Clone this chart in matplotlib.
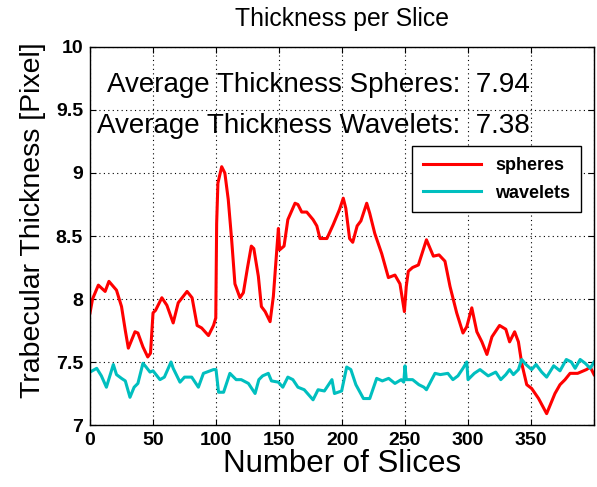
import matplotlib
matplotlib.use("Agg")
import matplotlib.pyplot as plt

plt.rcParams["font.family"] = ["Liberation Sans", "DejaVu Sans"]

# spheres curve
sph_x = [0, 2, 6.6, 12, 15, 21, 25, 28, 30.4, 35.7, 38, 42, 45.8, 48, 50, 52, 57, 61, 66, 70,
         77, 81, 85, 88.6, 94, 98, 99.8, 100.5, 101.5, 104.5, 107, 109.7, 112.4, 115, 119, 121.7,
         125, 128, 130, 133.6, 136, 139, 142.9, 145.5, 148, 149.5, 150.5, 154, 157, 162.7, 165,
         168, 172, 177, 180, 182.5, 188, 193, 198, 201, 203, 206, 208.5, 212, 215, 219.6, 222,
         226, 231.5, 236.8, 242, 246, 249.5, 251, 252.6, 256, 260.6, 267, 272.5, 277, 281.7,
         285.7, 291, 296, 299, 303, 307, 311, 315, 319, 325, 330, 333, 337, 340, 342.6, 346.6,
         350.5, 356, 362.4, 369, 373, 377, 381, 387, 394, 397, 400]
sph_y = [7.89, 8.00, 8.11, 8.06, 8.14, 8.07, 7.94, 7.75, 7.61, 7.74, 7.73, 7.62, 7.54, 7.57, 7.89,
         7.91, 8.01, 7.95, 7.81, 7.97, 8.06, 8.01, 7.79, 7.77, 7.71, 7.79, 7.85, 8.60, 8.92, 9.05,
         9.00, 8.79, 8.47, 8.12, 8.01, 8.05, 8.25, 8.42, 8.40, 8.18, 7.94, 7.90, 7.82, 8.02, 8.36,
         8.56, 8.39, 8.42, 8.63, 8.76, 8.75, 8.69, 8.69, 8.63, 8.58, 8.48, 8.48, 8.59, 8.71, 8.80,
         8.72, 8.48, 8.45, 8.58, 8.62, 8.76, 8.68, 8.52, 8.36, 8.17, 8.19, 8.12, 7.90, 8.10, 8.22,
         8.25, 8.27, 8.47, 8.34, 8.35, 8.30, 8.10, 7.89, 7.73, 7.78, 7.93, 7.74, 7.66, 7.56, 7.70,
         7.79, 7.76, 7.66, 7.74, 7.66, 7.49, 7.32, 7.29, 7.21, 7.09, 7.25, 7.32, 7.36, 7.41, 7.41,
         7.44, 7.46, 7.40]

# wavelets curve
wav_x = [0, 5.3, 9, 13, 18.5, 21, 25, 28, 31.7, 35, 38, 42, 44.5, 47.6, 50, 55.5, 59, 64.3, 66,
         71.4, 75, 80.7, 86, 90, 98, 100, 102, 106, 111, 116, 120, 125.7, 131, 134, 137, 141.5,
         144, 149.5, 153, 157, 161, 165, 170, 177, 181, 186, 192, 194, 199.7, 203.7, 207, 211,
         217, 222, 227.5, 232, 237, 242, 247, 249, 250, 251, 256, 261, 265, 267, 273.8, 278, 284,
         288, 292, 296, 299, 300, 305, 309.5, 316, 322, 326, 330, 333, 336, 340, 342.6, 346,
         350.5, 354, 358.5, 362.4, 368, 373, 378, 382, 385, 389, 393, 397, 400]
wav_y = [7.42, 7.45, 7.39, 7.30, 7.48, 7.40, 7.37, 7.35, 7.22, 7.30, 7.33, 7.49, 7.46, 7.42, 7.43,
         7.36, 7.38, 7.50, 7.45, 7.34, 7.38, 7.38, 7.30, 7.41, 7.44, 7.44, 7.26, 7.26, 7.41, 7.36,
         7.36, 7.33, 7.25, 7.36, 7.39, 7.41, 7.35, 7.34, 7.30, 7.38, 7.36, 7.30, 7.28, 7.20, 7.28,
         7.27, 7.36, 7.25, 7.27, 7.46, 7.44, 7.32, 7.21, 7.21, 7.37, 7.35, 7.37, 7.33, 7.36, 7.34,
         7.47, 7.36, 7.36, 7.32, 7.30, 7.28, 7.41, 7.40, 7.41, 7.36, 7.39, 7.45, 7.50, 7.36, 7.41,
         7.44, 7.39, 7.42, 7.36, 7.40, 7.44, 7.40, 7.44, 7.52, 7.48, 7.44, 7.48, 7.42, 7.38, 7.47,
         7.43, 7.52, 7.50, 7.45, 7.52, 7.49, 7.45, 7.50]

avg_spheres = 7.94
avg_wavelets = 7.38
x_ticks = [0, 50, 100, 150, 200, 250, 300, 350]
y_ticks = [7, 7.5, 8, 8.5, 9, 9.5, 10]
y_tick_labels = ["7", "7.5", "8", "8.5", "9", "9.5", "10"]

fig = plt.figure(figsize=(5.97, 4.87), dpi=100)
ax = fig.add_axes([0.1508, 0.1273, 0.8442, 0.7762])

ax.plot(sph_x, sph_y, color="#ff0000", lw=2.2, label="spheres")
ax.plot(wav_x, wav_y, color="#00bfbf", lw=2.2, label="wavelets")

ax.set_xlim(0, 400)
ax.set_ylim(7, 10)
ax.set_xticks(x_ticks + [400])
ax.set_xticklabels([str(t) for t in x_ticks] + [""])
ax.set_yticks(y_ticks)
ax.set_yticklabels(y_tick_labels)
ax.tick_params(direction="in", top=True, right=True, length=4, width=0.8, pad=5,
               labelsize=14)
for lab in ax.get_xticklabels() + ax.get_yticklabels():
    lab.set_fontweight("bold")
ax.grid(True, color="black", linestyle=(0, (1, 3)), linewidth=0.8)
for s in ax.spines.values():
    s.set_linewidth(1.0)

ax.set_title("Thickness per Slice", fontsize=17.8, pad=15)
ax.set_xlabel("Number of Slices", fontsize=22.5, labelpad=0)
ax.set_ylabel("Trabecular Thickness [Pixel]", fontsize=20.5)
ax.yaxis.set_label_coords(-0.087, 0.542)

ax.text(13.5, 9.70, "Average Thickness Spheres:  %.2f" % avg_spheres, fontsize=20,
        va="center", ha="left")
ax.text(5.6, 9.37, "Average Thickness Wavelets:  %.2f" % avg_wavelets, fontsize=20,
        va="center", ha="left")

leg = ax.legend(loc="upper right", bbox_to_anchor=(0.992, 0.762), fancybox=False,
                framealpha=1, edgecolor="black", handlelength=3.2,
                prop={"weight": "bold", "size": 13}, borderpad=0.6, labelspacing=0.6)
leg.get_frame().set_linewidth(1.0)

fig.savefig("out.png", dpi=100)
